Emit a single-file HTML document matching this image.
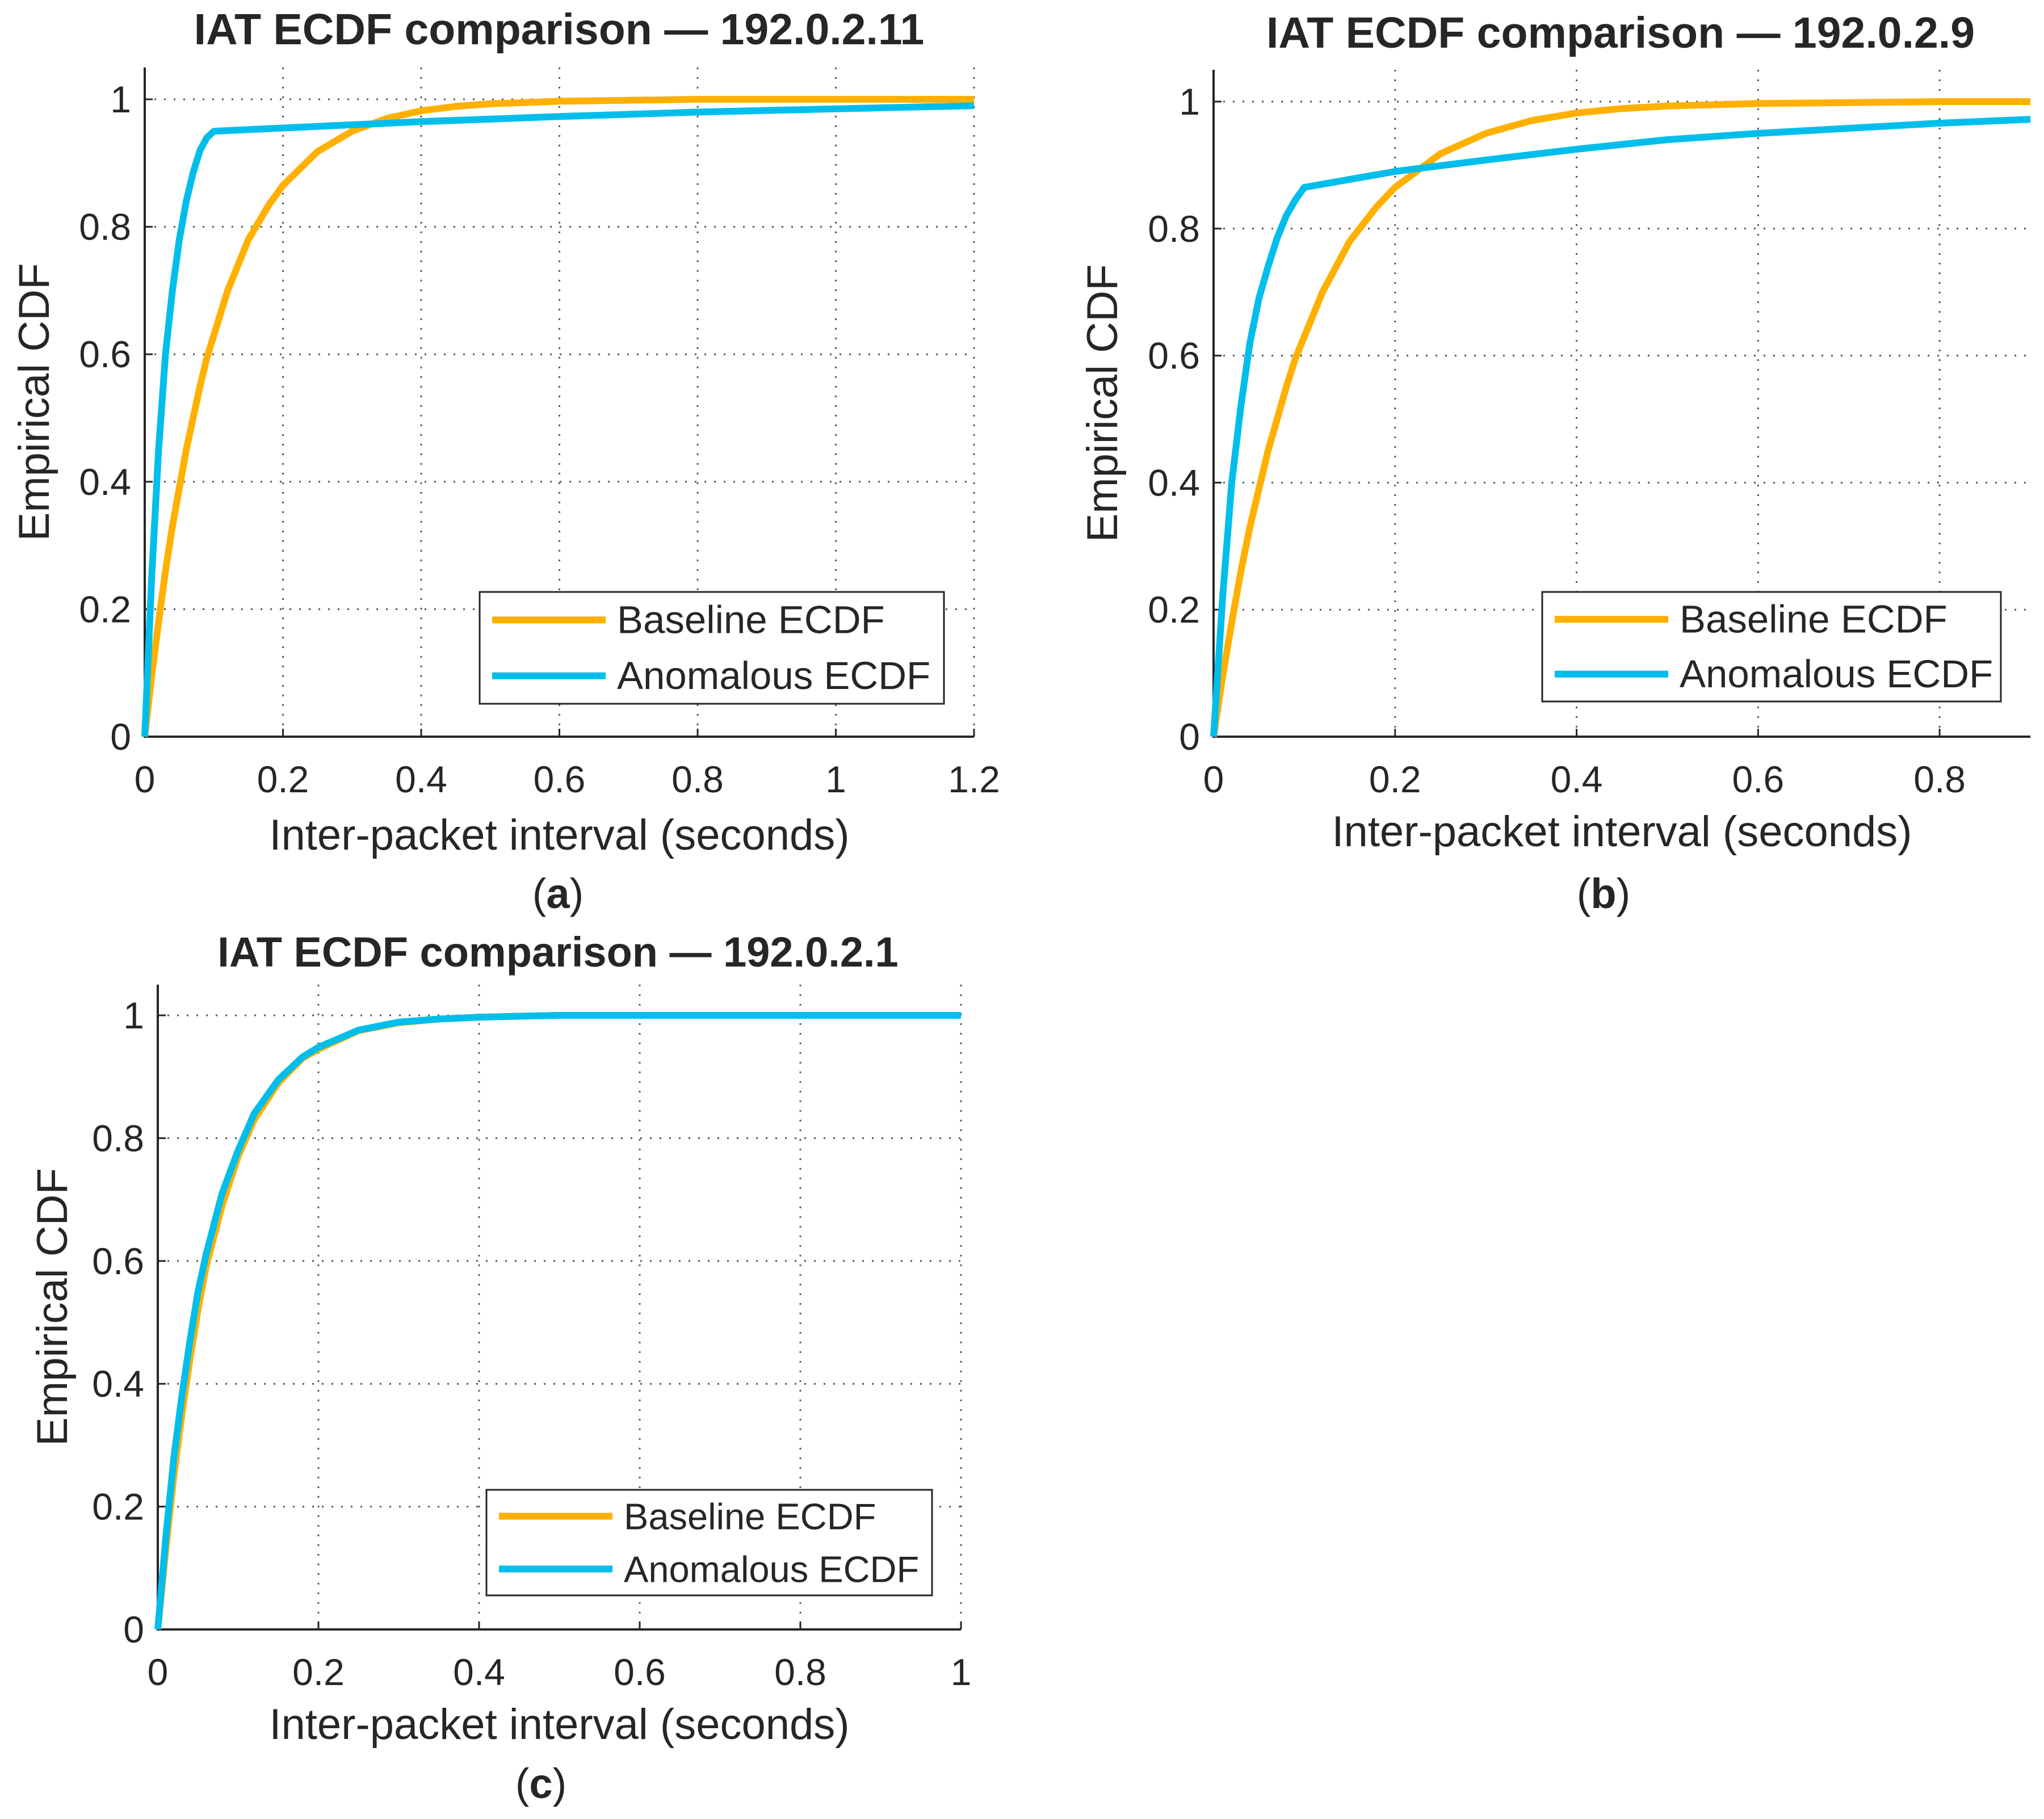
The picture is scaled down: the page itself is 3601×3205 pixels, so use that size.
<!DOCTYPE html>
<html><head><meta charset="utf-8"><style>
html,body{margin:0;padding:0;background:#fff}
svg{display:block}
text{font-family:"Liberation Sans",sans-serif;fill:#262626}
</style></head><body>
<svg id="fig" width="3601" height="3205" viewBox="0 0 3601 3205" xmlns="http://www.w3.org/2000/svg"></svg>
<script>
// Panel (a) data
const aBaseX=[0,0.01,0.02,0.03,0.04,0.05,0.06,0.07,0.08,0.09,0.1,0.12,0.15,0.18,0.2,0.25,0.3,0.35,0.4,0.45,0.5,0.6,0.8,1.0,1.2];
const aBaseY=[0,0.095,0.18,0.26,0.33,0.39,0.45,0.5,0.55,0.595,0.63,0.7,0.78,0.835,0.865,0.918,0.95,0.97,0.982,0.989,0.993,0.997,1,1,1];
const aAnomX=[0,0.01,0.02,0.03,0.04,0.05,0.06,0.07,0.08,0.09,0.1,0.2,0.4,0.6,0.8,1.0,1.2];
const aAnomY=[0,0.25,0.45,0.6,0.7,0.78,0.84,0.885,0.92,0.94,0.95,0.955,0.965,0.973,0.98,0.985,0.99];
const aXTicks=[0,0.2,0.4,0.6,0.8,1,1.2];
// Panel (b) data
const bBaseX=[0,0.01,0.02,0.03,0.04,0.05,0.06,0.07,0.08,0.09,0.1,0.12,0.15,0.18,0.2,0.25,0.3,0.35,0.4,0.45,0.5,0.6,0.8,0.9];
const bBaseY=[0,0.095,0.18,0.26,0.33,0.39,0.45,0.5,0.55,0.595,0.63,0.7,0.78,0.835,0.865,0.918,0.95,0.97,0.982,0.989,0.993,0.997,1,1];
const bAnomX=[0,0.01,0.02,0.03,0.04,0.05,0.06,0.07,0.08,0.09,0.1,0.2,0.3,0.4,0.5,0.6,0.7,0.8,0.9];
const bAnomY=[0,0.22,0.4,0.52,0.62,0.69,0.74,0.785,0.82,0.845,0.865,0.89,0.908,0.925,0.94,0.95,0.958,0.966,0.972];
const bXTicks=[0,0.2,0.4,0.6,0.8];
// Panel (c) data
const cBaseX=[0,0.01,0.02,0.03,0.04,0.05,0.06,0.07,0.08,0.1,0.12,0.15,0.18,0.2,0.25,0.3,0.35,0.4,0.5,0.6,1.0];
const cBaseY=[0,0.13,0.25,0.35,0.44,0.52,0.59,0.64,0.69,0.77,0.83,0.89,0.93,0.945,0.975,0.988,0.994,0.997,1,1,1];
const cAnomX=[0,0.01,0.02,0.03,0.04,0.05,0.06,0.07,0.08,0.1,0.12,0.15,0.18,0.2,0.25,0.3,0.35,0.4,0.5,0.6,1.0];
const cAnomY=[0,0.15,0.28,0.38,0.47,0.55,0.61,0.66,0.71,0.78,0.84,0.895,0.932,0.948,0.976,0.989,0.994,0.997,1,1,1];
const cXTicks=[0,0.2,0.4,0.6,0.8,1];
const yTicks=[0,0.2,0.4,0.6,0.8,1];
const seriesNames=["Baseline ECDF","Anomalous ECDF"];

const NS="http://www.w3.org/2000/svg";
const svg=document.getElementById('fig');
function mk(tag,attrs,parent){const e=document.createElementNS(NS,tag);for(const k in attrs)e.setAttribute(k,attrs[k]);(parent||svg).appendChild(e);return e;}
const ORANGE="#FFB000",CYAN="#00BEEB";

function panel(p){
  const g=mk('g',{});
  
  
  const sx=v=>p.L+(v-0)/(p.xmax)*(p.R-p.L);
  const sy=v=>p.Y0-v*(p.Y0-p.Y1);
  const top=sy(1.05);
  p.xt.forEach(v=>{const l=mk('line',{x1:sx(v),x2:sx(v),y1:top,y2:p.Y0,stroke:'#555','stroke-width':3,'stroke-dasharray':'3 14'},g);
    });
  yTicks.forEach(v=>{const l=mk('line',{x1:p.L,x2:p.R,y1:sy(v),y2:sy(v),stroke:'#555','stroke-width':3,'stroke-dasharray':'3 14'},g);
    });
  const ax=mk('path',{d:`M${p.L},${top}V${p.Y0}H${p.R}`,fill:'none',stroke:'#262626','stroke-width':4},g);
  
  p.xt.forEach(v=>{mk('line',{x1:sx(v),x2:sx(v),y1:p.Y0,y2:p.Y0-14,stroke:'#262626','stroke-width':3},g);
    const t=mk('text',{x:sx(v),y:p.Y0+98,'text-anchor':'middle','font-size':66},g);t.textContent=String(v);
    });
  yTicks.forEach(v=>{mk('line',{x1:p.L,x2:p.L+14,y1:sy(v),y2:sy(v),stroke:'#262626','stroke-width':3},g);
    const t=mk('text',{x:p.L-24,y:sy(v)+23,'text-anchor':'end','font-size':66},g);t.textContent=String(v);
    });
  const draw=(xs,ys,col,name)=>{const d=xs.map((x,i)=>(i?'L':'M')+sx(x).toFixed(1)+','+sy(ys[i]).toFixed(1)).join('');
    const l=mk('path',{d:d,fill:'none',stroke:col,'stroke-width':12,'stroke-linejoin':'round'},g);
    };
  draw(p.bx,p.by,ORANGE,'baseline-ecdf-line');
  draw(p.ax,p.ay,CYAN,'anomalous-ecdf-line');
  const ti=mk('text',{x:p.tx,y:p.ty,'text-anchor':'middle','font-size':p.tfs,'font-weight':'bold'},g);
  ti.textContent=p.title;
  const xl=mk('text',{x:(p.L+p.R)/2,y:p.xly,'text-anchor':'middle','font-size':76},g);
  xl.textContent='Inter-packet interval (seconds)';
  const yl=mk('text',{x:p.ylx,y:(p.Y0+top)/2,'text-anchor':'middle','font-size':76,transform:`rotate(-90 ${p.ylx} ${(p.Y0+top)/2})`},g);
  yl.textContent='Empirical CDF';
  const cap=mk('text',{x:p.capx,y:p.capy,'text-anchor':'middle','font-size':74,'font-family':'Liberation Serif, serif'},g);
  cap.innerHTML='(<tspan font-weight="bold">'+p.id+'</tspan>)';
  const lg=mk('g',{},g);
  mk('rect',{x:p.lg[0],y:p.lg[1],width:p.lg[2],height:p.lg[3],fill:'#fff',stroke:'#262626','stroke-width':3},lg);
  const rh=p.lg[3]/2;
  [ORANGE,CYAN].forEach((c,i)=>{const cy=p.lg[1]+rh*(i+0.5);
    const ln=mk('line',{x1:p.lg[0]+22,x2:p.lg[0]+222,y1:cy,y2:cy,stroke:c,'stroke-width':12},lg);
    
    const t=mk('text',{x:p.lg[0]+242,y:cy+23,'font-size':p.lfs},lg);t.textContent=seriesNames[i];
    });
}
panel({id:'a',L:255,R:1716,xmax:1.2,Y0:1298,Y1:175,xt:aXTicks,bx:aBaseX,by:aBaseY,ax:aAnomX,ay:aAnomY,tfs:77,lfs:69,
  title:'IAT ECDF comparison — 192.0.2.11',tx:985,ty:78,xly:1497,ylx:86,capx:983,capy:1600,lg:[845,1043,818,197]});
panel({id:'b',L:2138,R:3577,xmax:0.9,Y0:1298,Y1:179,xt:bXTicks,bx:bBaseX,by:bBaseY,ax:bAnomX,ay:bAnomY,tfs:77,lfs:69,
  title:'IAT ECDF comparison — 192.0.2.9',tx:2855,ty:84,xly:1491,ylx:1968,capx:2825,capy:1600,lg:[2717,1043,808,193]});
panel({id:'c',L:278,R:1693,xmax:1,Y0:2871,Y1:1789,xt:cXTicks,bx:cBaseX,by:cBaseY,ax:cAnomX,ay:cAnomY,tfs:74,lfs:65,
  title:'IAT ECDF comparison — 192.0.2.1',tx:983,ty:1703,xly:3064,ylx:118,capx:953,capy:3168,lg:[857,2625,785,186]});
</script>
</body></html>
